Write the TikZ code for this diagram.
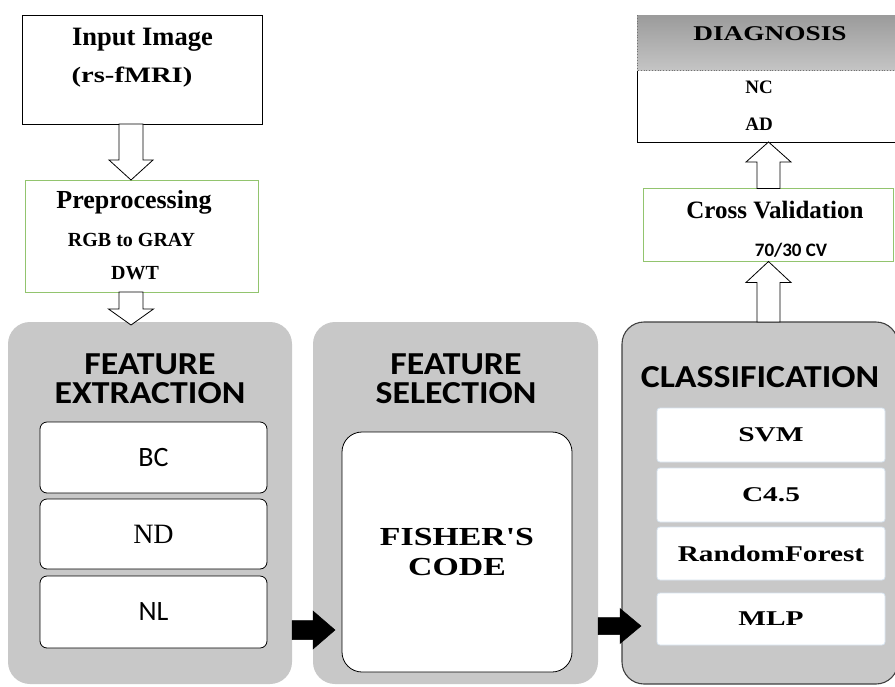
\documentclass[tikz,border=0pt]{standalone}
\usepackage{fontspec}
\setmainfont{Liberation Serif}
\newfontfamily\calib{Carlito}
\newfontfamily\wcalib[FakeStretch=1.12]{Carlito}
\newfontfamily\wserif[FakeStretch=1.3]{Liberation Serif}
\newfontfamily\wwserif[FakeStretch=1.4]{Liberation Serif}
\usetikzlibrary{calc}
\definecolor{panelgray}{RGB}{200,200,200}
\definecolor{boxgreen}{RGB}{146,196,110}
\definecolor{lightblue}{RGB}{215,228,240}
\definecolor{hdtop}{RGB}{155,155,155}
\definecolor{hdbot}{RGB}{196,196,196}
% #1 style, #2 from, #3 to (tip), #4 half shaft, #5 half head, #6 head length
\newcommand\blockarrow[6]{%
  \path (#2) coordinate (ba1) (#3) coordinate (ba2);
  \path ($(ba2)!#6!(ba1)$) coordinate (bah);
  \draw[#1] ($(ba1)!#4!90:(ba2)$) -- ($(bah)!#4!90:(ba2)$) -- ($(bah)!#5!90:(ba2)$)
    -- (ba2) -- ($(bah)!#5!-90:(ba2)$) -- ($(bah)!#4!-90:(ba2)$) -- ($(ba1)!#4!-90:(ba2)$) -- cycle;
}
\begin{document}
\begin{tikzpicture}[x=1pt,y=-1pt,
  box/.style={rectangle,inner sep=0pt,outer sep=0pt},
  plainbox/.style={box,draw=black,line width=0.9pt,fill=white},
  greenbox/.style={box,draw=boxgreen,line width=1pt,fill=white},
  panel/.style={box,fill=panelgray,rounded corners=22pt},
  innerbox/.style={box,draw=black,line width=0.8pt,fill=white,rounded corners=7pt},
  clsbox/.style={box,draw=lightblue,line width=0.8pt,fill=white,rounded corners=3pt},
  txt/.style={inner sep=0pt,anchor=base},
  head/.style={txt,font=\wcalib\bfseries\fontsize{32}{34}\selectfont},
  hollow/.style={draw=black,line width=0.8pt,fill=white,line join=miter},
  solidarrow/.style={draw=black,fill=black,line width=0.5pt}]
\useasboundingbox (0,0) rectangle (895,686);
\fill[white] (0,0) rectangle (895,686);

% ---- left top
\node[plainbox,minimum width=240pt,minimum height=109pt] (input) at (142,69.5) {};
\node[txt,font=\bfseries\fontsize{26.5}{28}\selectfont] (inT1) at (142.5,45) {Input Image};
\node[txt,font=\wserif\bfseries\fontsize{22}{24}\selectfont] (inT2) at (132,82) {(rs-fMRI)};

\node[greenbox,minimum width=233pt,minimum height=112pt] (prep) at (141.5,236) {};
\node[txt,font=\bfseries\fontsize{26}{28}\selectfont] (prT1) at (134,208) {Preprocessing};
\node[txt,font=\bfseries\fontsize{20}{22}\selectfont] (prT2) at (131.5,246) {RGB to GRAY};
\node[txt,font=\bfseries\fontsize{20}{22}\selectfont] (prT3) at (135,279) {DWT};

\coordinate (axL) at (131,0);
\coordinate (axR) at (768.5,0);

% ---- panels
\node[panel,minimum width=284pt,minimum height=362pt] (fe) at (150,503) {};
\node[panel,minimum width=285pt,minimum height=362pt] (fs) at (455.5,503) {};
\node[panel,draw=black!75,line width=1.1pt,minimum width=276pt,minimum height=362pt] (cl) at (760,503) {};

\node[head] (feH1) at (150,374) {FEATURE};
\node[head] (feH2) at (150,403) {EXTRACTION};
\node[head] (fsH1) at (456,374) {FEATURE};
\node[head] (fsH2) at (456,403) {SELECTION};
\node[head] (clH) at (760,387) {CLASSIFICATION};

\node[innerbox,minimum width=227pt,minimum height=71pt,font=\calib\fontsize{28}{30}\selectfont] (bc) at (153.5,457.5) {BC};
\node[innerbox,minimum width=227pt,minimum height=70pt,font=\fontsize{28}{30}\selectfont] (nd) at (153.5,534) {ND};
\node[innerbox,minimum width=227pt,minimum height=72pt,font=\calib\fontsize{28}{30}\selectfont] (nl) at (153.5,612) {NL};

\node[innerbox,rounded corners=20pt,minimum width=230pt,minimum height=240pt] (fish) at (457,552) {};
\node[txt,font=\wserif\bfseries\fontsize{26}{30}\selectfont] (fiT1) at (457,545) {FISHER'S};
\node[txt,font=\wserif\bfseries\fontsize{26}{30}\selectfont] (fiT2) at (457,575) {CODE};

\node[clsbox,minimum width=228pt,minimum height=54pt,font=\wwserif\bfseries\fontsize{21}{24}\selectfont] (svm) at (771,435) {SVM};
\node[clsbox,minimum width=228pt,minimum height=54pt,font=\wwserif\bfseries\fontsize{21}{24}\selectfont] (c45) at (771,495) {C4.5};
\node[clsbox,minimum width=228pt,minimum height=53pt,font=\wserif\bfseries\fontsize{22.5}{24}\selectfont] (rf) at (771,553.5) {RandomForest};
\node[clsbox,minimum width=228pt,minimum height=52pt,font=\wwserif\bfseries\fontsize{21}{24}\selectfont] (mlp) at (771,619) {MLP};

% ---- right top
\node[greenbox,minimum width=250pt,minimum height=73pt] (cv) at (768,225) {};
\node[txt,font=\bfseries\fontsize{25}{27}\selectfont] (cvT1) at (775,218) {Cross Validation};
\node[txt,font=\calib\bfseries\fontsize{19}{21}\selectfont] (cvT2) at (791,256) {70/30 CV};

\node[box,top color=hdtop,bottom color=hdbot,minimum width=264pt,minimum height=55pt] (dh) at (769,42.5) {};
\draw[black!55,line width=0.8pt,dotted] (dh.north west) -- (dh.south west) -- (dh.south east);
\node[box,fill=white,minimum width=264pt,minimum height=71pt] (db) at (769,106.5) {};
\draw[black,line width=0.9pt] (db.north west) -- (db.south west) -- (db.south east);
\node[txt,font=\wserif\bfseries\fontsize{21}{23}\selectfont] (dT) at (770,40) {DIAGNOSIS};
\node[txt,font=\bfseries\fontsize{19}{21}\selectfont] (nc) at (759,93) {NC};
\node[txt,font=\bfseries\fontsize{19}{21}\selectfont] (ad) at (759,130) {AD};

% ---- arrows
\blockarrow{hollow}{input.south -| axL}{prep.north -| axL}{12pt}{22pt}{20pt}
\blockarrow{hollow}{prep.south -| axL}{$(fe.north -| axL)+(0,3)$}{12pt}{22.5pt}{16pt}
\blockarrow{hollow}{cl.north -| axR}{cv.south -| axR}{11.5pt}{22.5pt}{21pt}
\blockarrow{hollow}{cv.north -| axR}{db.south -| axR}{11.5pt}{22.5pt}{20pt}

\coordinate (bA) at (0,630);
\coordinate (bB) at (0,626);
\blockarrow{solidarrow}{fe.east |- bA}{$(fish.west |- bA)+(-7,0)$}{9.5pt}{19pt}{22pt}
\blockarrow{solidarrow}{fs.east |- bB}{$(mlp.west |- bB)+(-16,0)$}{8.5pt}{17.5pt}{21pt}
\end{tikzpicture}
\end{document}
